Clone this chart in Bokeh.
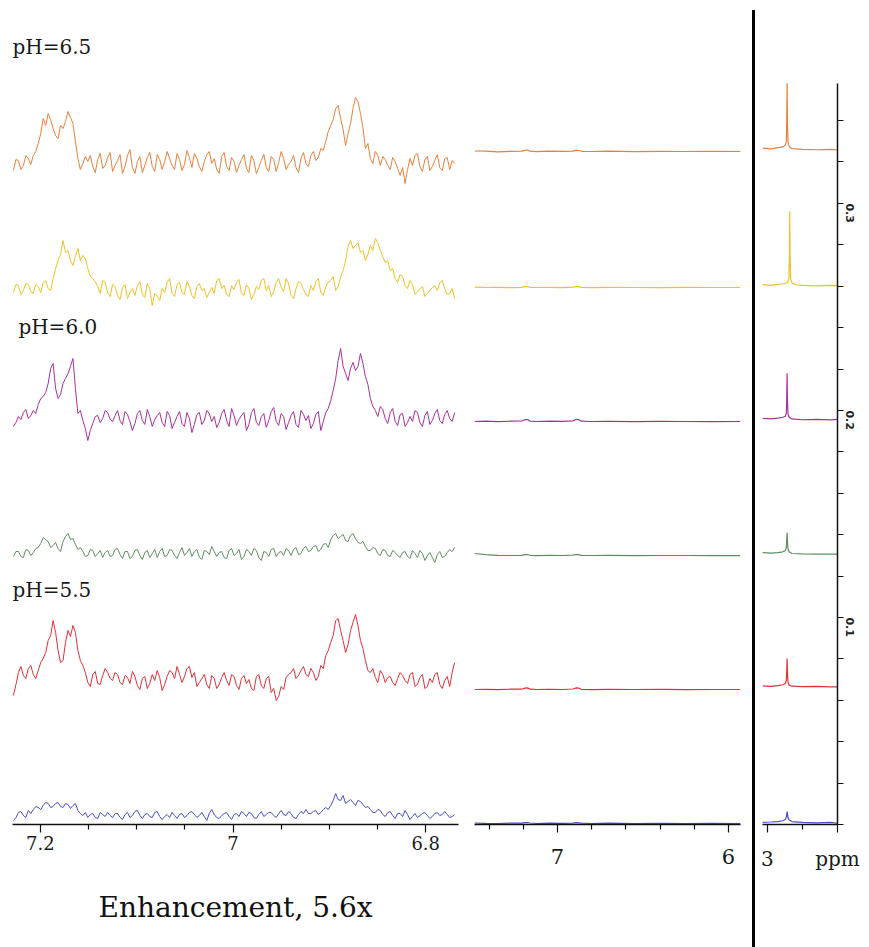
import math
import numpy as np
from bokeh.plotting import figure
from bokeh.layouts import row
from bokeh.models import Range1d, FixedTicker, CustomJSTickFormatter, Label, Div
from bokeh.embed import file_html
from bokeh.resources import INLINE

# ---------------- data ----------------
colors = ["#E8803C", "#F0C024", "#A8309A", "#5E8E5E", "#E0303A", "#4B4BCB"]
ph_labels = ["pH=6.5", "pH=6.0", "pH=5.5"]

# enhanced (5.6x) aromatic region, sampled from 7.228 to 6.770 ppm
zoom_ppm_start, zoom_ppm_end, zoom_n = 7.228, 6.770, 179
zoom_levels = [659, 532, 404, 269, 142, 7]
# values at even samples
zoom_s1 = [-7,3,-2,5,8,20,45,50,35,25, 35,52,40,5,0,2,-3,4,-5,6, -8,3,-10,8,-4,2,-9,6,-3,9,
           -6,12,-2,10,-7,13,-4,5,-8,9, 0,-6,7,-3,6,-9,4,-5,8,-10, 3,-4,7,-8,12,-6,2,-4,5,0,
           8,3,15,22,38,55,45,18,40,66, 50,15,5,12,-2,4,-6,2,-12,-20, 5,8,-3,4,-7,3,-4,5,-6,0]
zoom_s2 = [-2,5,0,6,-3,4,8,2,12,30, 50,40,25,42,35,22,12,4,10,-2, 6,-5,3,-8,2,5,-4,7,-15,-6,
           2,8,-3,6,-2,9,-5,4,0,-7, 3,10,2,-4,5,8,-3,6,-9,4, 10,0,-6,8,3,12,-5,2,7,-4,
           5,9,-2,4,10,0,14,30,50,45, 38,30,45,52,40,28,20,12,16,5, 10,-4,2,-6,0,5,8,2,-3,-8]
zoom_s3 = [-8,2,6,0,8,14,22,35,55,20, 35,45,60,5,-2,-22,-5,3,0,6, -3,8,-6,4,-12,5,-2,9,-8,3,
           -4,7,-10,2,-5,6,-14,4,-6,8, -3,-9,5,-2,10,-7,3,-12,6,-4, 2,-9,7,-3,5,-11,3,-6,8,-2,
           -10,4,-12,6,18,40,70,45,50,48, 65,42,20,8,12,0,6,-3,4,-8, 2,8,-4,3,-6,5,-2,4,0,6]
zoom_s4 = [-3,2,-4,3,1,6,16,12,8,5, 12,20,15,4,2,-2,3,0,-4,3, -2,5,-5,2,-3,4,-6,3,0,-4,
           5,-2,3,-5,6,1,-3,4,-6,2, 7,-3,2,-5,5,0,-6,4,-2,3, -7,1,4,-3,2,5,-2,6,0,7,
           3,8,4,10,14,20,17,13,18,15, 10,7,3,5,-2,3,-3,1,-4,2, -5,0,3,-7,1,-9,2,-3,4,6]
zoom_s5 = [-15,8,5,12,6,10,22,40,60,30, 20,50,55,30,15,-2,6,-3,5,8, 0,6,-4,3,9,-5,2,-8,6,10,
           -10,4,8,14,-2,12,3,-6,2,-4, 5,-8,3,0,6,-5,2,-3,-8,4, -5,2,-12,-20,-6,3,8,2,10,6,
           12,0,15,25,38,60,50,28,50,66, 40,20,8,3,10,-2,4,-5,8,0, 6,-6,3,-8,2,6,-4,0,-6,18]
zoom_s6 = [-5,3,0,5,6,8,10,12,9,13, 8,11,10,5,0,-2,2,-3,1,3, -2,2,-4,3,0,5,-3,2,-2,4,
           -4,1,3,-3,2,0,4,-2,3,-5, 6,-2,0,3,-4,2,4,-1,2,-3, 4,1,3,-2,5,0,2,-3,4,6,
           2,5,3,8,10,22,15,12,16,10, 14,8,6,3,5,-1,4,-3,2,5, -4,2,0,3,-3,2,0,4,-2,1]
# values at odd samples (between the even ones)
zoom_m1 = [4,-6,8,-1,12,30,38,44,28,38, 42,46,22,-6,7,8,-9,10,-2,11, -2,9,-3,14,-10,7,-2,11,-8,4,
           2,5,-6,4,-1,6,10,-3,2,12, 5,-10,11,-7,2,-2,9,-9,3,-4, 9,-8,4,1,5,-1,8,-9,11,-3,
           12,6,13,32,44,58,34,30,55,62, 36,20,0,8,7,-2,6,-5,-4,-6, -2,10,-8,7,-3,9,-7,6,3]
zoom_m2 = [6,-4,7,-1,6,-2,10,0,22,36, 38,30,34,30,32,14,9,-3,8,-6, 4,-9,6,-2,-5,9,-7,2,-3,-10,
           -2,12,-6,8,-4,4,-8,7,2,-2, -3,12,5,-6,1,11,-5,2,-4,1, 12,5,-1,12,-1,7,-8,9,1,-6,
           0,12,-5,8,14,4,20,44,42,48, 40,36,40,48,34,30,22,8,14,2, 6,-1,4,-3,3,0,10,-4,2]
zoom_m3 = [-4,-1,9,3,5,20,26,50,30,24, 40,52,30,8,-10,-12,2,-4,8,-1, 3,-2,7,-3,-5,8,-6,2,-1,6,
           -8,3,-4,7,-8,0,-6,6,-2,5, 2,-4,9,-8,3,-1,6,-6,10,-7, 5,-2,11,-7,2,-4,7,-9,4,3,
           -5,7,-3,10,28,58,52,38,56,52, 55,34,12,2,9,-5,10,-7,5,-4, -3,6,-8,7,-2,9,-5,8,-3]
zoom_m4 = [2,-3,4,-2,5,10,14,6,11,2, 17,14,9,6,-3,4,-3,3,1,-3, 4,-1,2,-5,3,-2,1,-4,4,2,
           -3,4,-2,1,-2,5,2,-4,3,-1, 2,1,-4,3,-2,4,-3,2,5,-4, 2,-3,5,1,-2,3,4,-1,5,2,
           7,2,9,6,18,15,19,12,20,11, 12,3,6,0,4,-2,3,-2,1,-3, 3,-4,0,-2,-4,-1,-4,1,2]
zoom_m5 = [-4,14,2,15,2,18,28,45,48,18, 38,44,48,20,8,-6,9,-4,12,2, 8,-2,5,-3,4,-9,4,-3,0,3,
           -4,10,2,6,4,14,8,-2,6,-8, 2,-4,8,-5,4,-9,5,1,-10,6, -8,4,-8,-16,-9,6,12,5,14,4,
           8,4,12,30,45,62,40,36,58,55, 32,10,12,-2,6,3,-2,2,5,-3, 8,-4,6,-6,-2,8,-8,4,8]
zoom_m6 = [-2,4,-2,2,9,6,13,8,12,9, 12,7,12,2,3,1,-2,3,-1,0, 2,-2,1,-2,4,0,1,-1,3,-1,
           -1,-2,0,1,-2,3,1,0,-1,2, 1,-3,2,-1,1,-1,2,3,-2,1, -1,3,0,2,1,4,-2,1,2,2,
           4,1,6,6,15,16,20,14,13,15, 11,9,3,6,1,3,0,2,-1,1, -1,-2,2,0,-1,3,1,1,-1]
zoom_even = [zoom_s1, zoom_s2, zoom_s3, zoom_s4, zoom_s5, zoom_s6]
zoom_odd = [zoom_m1, zoom_m2, zoom_m3, zoom_m4, zoom_m5, zoom_m6]

# unenhanced wide region
mid_ppm = [7.485, 7.42, 7.35, 7.27, 7.21, 7.19, 7.175, 7.16, 7.12, 7.05, 6.97, 6.91,
           6.89, 6.875, 6.86, 6.80, 6.70, 6.55, 6.40, 6.25, 6.10, 5.93]
mid_levels = [671, 535, 401, 267, 133, -1]
mid_s1 = [0.5,0.3,-0.3,0.2,0.3,1.2,1.5,0.3,-0.2,0.3,0.1,0.4,1.3,1.0,0.2,0,0.3,-0.2,0.2,0,0.1,0]
mid_s2 = [0.3,0,0.2,-0.2,0.2,0.8,1.0,0.2,0,0.2,-0.1,0.3,1.0,0.8,0.1,-0.1,0.2,0,-0.1,0.1,0,0]
mid_s3 = [0,0.3,-0.2,0.3,0.5,1.8,2.0,0.4,0,0.3,0.2,0.6,2.2,1.8,0.3,0,0.2,-0.2,0.1,0,-0.1,0]
mid_s4 = [2.0,0.8,0.2,0,0.2,0.8,1.0,0.2,-0.2,0.1,0,0.3,1.0,0.8,0.2,0,0.1,-0.1,0,0,-0.1,-0.1]
mid_s5 = [0,0.2,-0.2,0.3,0.3,1.4,1.6,0.3,0,0.2,0,0.5,1.6,1.3,0.2,-0.1,0.2,0,0.1,-0.1,0,0]
mid_s6 = [0.5,0.2,0,0.4,0.3,0.8,1.0,0.5,0,0.4,0.2,0.3,0.9,0.7,0.3,0,0.3,0,0.2,0,0.1,0]
mid_devs = [mid_s1, mid_s2, mid_s3, mid_s4, mid_s5, mid_s6]

# reference singlet near 2.7 ppm (true intensity scale)
peak_ppm_a = [3.07, 2.95, 2.85, 2.78, 2.745, 2.73, 2.724, 2.719, 2.714, 2.706, 2.69, 2.65, 2.5, 2.3, 2.1, 2.0]
peak_ppm_b = [3.07, 2.95, 2.85, 2.76, 2.71, 2.694, 2.686, 2.681, 2.676, 2.668, 2.65, 2.6, 2.5, 2.3, 2.1, 2.0]
peak_levels = [0.3261, 0.2604, 0.1957, 0.1309, 0.0667, 0.0010]
peak_s1 = [0.0006, 0.0002, 0.0008, 0.0012, 0.002, 0.004, 0.014, 0.0319, 0.013, 0.0035, 0.0014, 0.0004, 0.0, -0.0002, 0.0, -0.0003]
peak_s2 = [0.0004, 0.0, 0.0005, 0.0008, 0.0014, 0.0035, 0.014, 0.0358, 0.013, 0.003, 0.0012, 0.0003, 0.0, -0.0002, 0.0, -0.0001]
peak_s3 = [0.0005, 0.0002, 0.0006, 0.001, 0.0015, 0.003, 0.010, 0.0222, 0.009, 0.0025, 0.001, 0.0002, -0.0002, 0.0, -0.0003, 0.0]
peak_s4 = [0.0004, 0.0002, 0.0004, 0.0008, 0.0014, 0.0028, 0.0065, 0.0101, 0.006, 0.0022, 0.0008, 0.0, -0.0002, -0.0003, -0.0003, -0.0003]
peak_s5 = [0.0003, 0.0, 0.0004, 0.0008, 0.0014, 0.003, 0.007, 0.0135, 0.0065, 0.002, 0.0006, 0.0001, -0.0001, 0.0, -0.0002, -0.0002]
peak_s6 = [0.0, 0.0002, 0.0004, 0.0008, 0.0014, 0.0025, 0.004, 0.0053, 0.004, 0.0022, 0.0012, 0.0004, 0.0, -0.0002, 0.0, -0.0004]
peak_devs = [peak_s1, peak_s2, peak_s3, peak_s4, peak_s5, peak_s6]
peak_x = [peak_ppm_a, peak_ppm_b, peak_ppm_a, peak_ppm_a, peak_ppm_a, peak_ppm_a]

# ---------------- styling helpers ----------------
SERIF = "DejaVu Serif"
FRAME_BOTTOM_BORDER = 123


def clean(p):
    p.xgrid.visible = False
    p.ygrid.visible = False
    p.outline_line_color = None
    p.background_fill_color = "white"
    p.border_fill_color = "white"


def style_x(ax, major, minor, size="18px"):
    ax.ticker = FixedTicker(ticks=major, minor_ticks=minor)
    ax.axis_line_color = "#111111"
    ax.axis_line_width = 1.6
    ax.major_tick_line_color = "#111111"
    ax.minor_tick_line_color = "#111111"
    ax.major_tick_line_width = 1.2
    ax.minor_tick_line_width = 1.2
    ax.major_tick_in = 0
    ax.major_tick_out = 8
    ax.minor_tick_in = 0
    ax.minor_tick_out = 5
    ax.major_label_text_font = SERIF
    ax.major_label_text_font_size = size
    ax.major_label_text_color = "#1a1a1a"
    ax.major_label_standoff = 4


# ---------------- panel A: enhanced ----------------
zoom_x = np.linspace(zoom_ppm_start, zoom_ppm_end, zoom_n)
pa = figure(width=466, height=947, x_range=Range1d(7.229, 6.766), y_range=Range1d(-2, 822),
            output_backend="svg", toolbar_location=None, y_axis_location=None,
            min_border_left=12, min_border_right=8, min_border_top=0,
            min_border_bottom=FRAME_BOTTOM_BORDER)
clean(pa)
for lvl, ev, od, c in zip(zoom_levels, zoom_even, zoom_odd, colors):
    seq = [v for pair in zip(ev, od) for v in pair] + [ev[-1]]
    pa.line(zoom_x, [lvl + d for d in seq], line_color=c, line_width=1)
xa = pa.xaxis[0]
style_x(xa, [7.2, 7.0, 6.8], [7.15, 7.1, 7.05, 6.95, 6.9, 6.85])
xa.formatter = CustomJSTickFormatter(code="return String(Math.round(tick*10)/10);")
xa.major_label_standoff = 3
xa.axis_label = "Enhancement, 5.6x"
xa.axis_label_text_font = SERIF
xa.axis_label_text_font_size = "28px"
xa.axis_label_text_font_style = "normal"
xa.axis_label_text_color = "#111111"
xa.axis_label_standoff = 38

for txt, x, y in zip(ph_labels, [7.229, 7.2229, 7.229], [776, 496, 233]):
    pa.add_layout(Label(x=x, y=y, text=txt, text_font=SERIF, text_font_size="20px",
                        text_color="#1a1a1a", text_align="left", text_baseline="middle"))

# ---------------- panel B: full aromatic ----------------
pb = figure(width=286, height=947, x_range=Range1d(7.4854, 5.9298), y_range=Range1d(-2, 822),
            output_backend="svg", toolbar_location=None, y_axis_location=None,
            min_border_left=8, min_border_right=12, min_border_top=0,
            min_border_bottom=FRAME_BOTTOM_BORDER)
clean(pb)
for lvl, dev, c in zip(mid_levels, mid_devs, colors):
    pb.line(mid_ppm, [lvl + d for d in dev], line_color=c, line_width=1.2)
xb = pb.xaxis[0]
style_x(xb, [7.0, 6.0], [7.4, 7.2, 6.8, 6.6, 6.4, 6.2], size="21px")
xb.formatter = CustomJSTickFormatter(code="return String(Math.round(tick));")
xb.major_label_standoff = 16

# ---------------- divider ----------------
divider = Div(width=3, height=937, margin=(10, 0, 0, 0), styles={"background-color": "black"})

# ---------------- panel C: reference peak ----------------
pc = figure(width=114, height=947, x_range=Range1d(3.07, 2.0), y_range=Range1d(0, 0.398),
            output_backend="svg", toolbar_location=None, y_axis_location="right",
            min_border_left=7, min_border_right=32, min_border_top=0,
            min_border_bottom=FRAME_BOTTOM_BORDER)
clean(pc)
for lvl, dev, xs, c in zip(peak_levels, peak_devs, peak_x, colors):
    pc.line(xs, [lvl + d for d in dev], line_color=c, line_width=1.2)
xc = pc.xaxis[0]
style_x(xc, [3.0, 2.0], [2.5], size="20px")
xc.formatter = CustomJSTickFormatter(
    code="if (Math.abs(tick-3)<1e-6) return '3'; if (Math.abs(tick-2)<1e-6) return 'ppm'; return '';")
xc.major_label_standoff = 14

yc = pc.yaxis[0]
yc.bounds = (0, 0.358)
yc.ticker = FixedTicker(ticks=[0.1, 0.2, 0.3],
                        minor_ticks=[0.0, 0.02, 0.04, 0.06, 0.08, 0.12, 0.14, 0.16, 0.18,
                                     0.22, 0.24, 0.26, 0.28, 0.32, 0.34])
yc.formatter = CustomJSTickFormatter(code="return (Math.round(tick*10)/10).toFixed(1);")
yc.axis_line_color = "#111111"
yc.axis_line_width = 1.5
yc.major_tick_line_color = "#111111"
yc.minor_tick_line_color = "#111111"
yc.major_tick_in = 0
yc.major_tick_out = 6
yc.minor_tick_in = 0
yc.minor_tick_out = 6
yc.major_label_orientation = -math.pi / 2
yc.major_label_text_font = "DejaVu Sans"
yc.major_label_text_font_style = "bold"
yc.major_label_text_font_size = "11px"
yc.major_label_text_color = "#222222"
yc.major_label_standoff = 6

layout = row(pa, pb, divider, pc, spacing=0)
open("out.html", "w").write(file_html(layout, INLINE))
